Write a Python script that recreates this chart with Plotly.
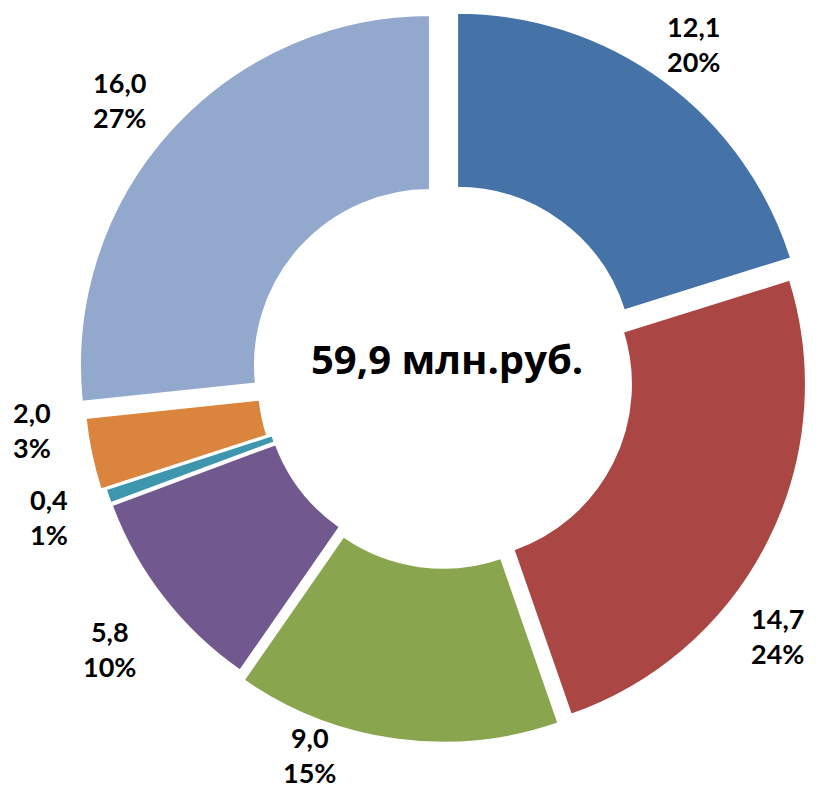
import math
import plotly.graph_objects as go

# ---- data ----
categories = ["A", "B", "C", "D", "E", "F", "G"]
values = [12.1, 14.7, 9.0, 5.8, 0.4, 2.0, 16.0]
total_label = 59.9
unit = "млн.руб."

# ---- style ----
colors = ["#4572A7", "#AA4643", "#89A54E", "#71588F", "#3D96AE", "#DB843D", "#92A8CD"]
pulls = [0.057, 0.034, 0.04, 0.02, 0.02, 0.034, 0.059]
label_angle_adj = [0, 11, 11, -1, 0, 5, -1.5]
label_r_scale = [1.2, 1.2, 1.2, 1.23, 1.2, 1.2, 1.225]

PAGE_W, PAGE_H = 823, 788
OFF = 8                         # default body margin of the html page
W, H = PAGE_W - OFF, PAGE_H - OFF
# geometry in page pixels
CX, CY = 445.3, 378.9
R0 = 350.0
HOLE = 0.5
BOX_HW, BOX_HH = 28, 32

cx, cy = CX - OFF, CY - OFF     # figure pixels
half = R0 * (1 + max(pulls))
half = min(half, cy - 0.01)
dom_x = [(cx - half) / W, (cx + half) / W]
dom_y = [max(0.0, (H - cy - half) / H), min(1.0, (H - cy + half) / H)]

fig = go.Figure(go.Pie(
    labels=categories,
    values=values,
    sort=False,
    direction="clockwise",
    rotation=0,
    hole=HOLE,
    pull=pulls,
    marker=dict(colors=colors, line=dict(color="white", width=2)),
    textinfo="none",
    hoverinfo="label+value+percent",
    showlegend=False,
    domain=dict(x=dom_x, y=dom_y),
))

tot = sum(values)
annotations = []
cum = 0.0
for i, v in enumerate(values):
    mid = (cum + v / 2) / tot * 360 + label_angle_adj[i]
    cum += v
    a = math.radians(mid)
    rl = label_r_scale[i] * R0
    px = CX + rl * math.sin(a)
    py = CY - rl * math.cos(a)
    px = min(max(px, BOX_HW + 4), PAGE_W - BOX_HW - 4)
    py = min(max(py, BOX_HH + 12), PAGE_H - BOX_HH - 1)
    px -= OFF
    py -= OFF
    pct = round(v / tot * 100)
    val = f"{v:.1f}".replace(".", ",")
    txt = f"<b>{val}</b><br><b>{pct}%</b>"
    annotations.append(dict(
        x=px / W, y=(H - py) / H, xref="paper", yref="paper",
        text=txt, showarrow=False, xanchor="center", yanchor="middle",
        font=dict(family="Lato, 'Open Sans', sans-serif", size=27, color="#000000"),
        align="center",
    ))

center_txt = f"{total_label:.1f}".replace(".", ",") + " " + unit
annotations.append(dict(
    x=(447 - OFF) / W, y=(H - (359 - OFF)) / H, xref="paper", yref="paper",
    text=f"<b>{center_txt}</b>",
    showarrow=False, xanchor="center", yanchor="middle",
    font=dict(family="'Open Sans', 'Noto Sans', sans-serif", size=40, color="#000000"),
))

fig.update_layout(
    width=W, height=H,
    margin=dict(l=0, r=0, t=0, b=0),
    paper_bgcolor="white",
    plot_bgcolor="white",
    annotations=annotations,
)

fig.write_html("out.html")
